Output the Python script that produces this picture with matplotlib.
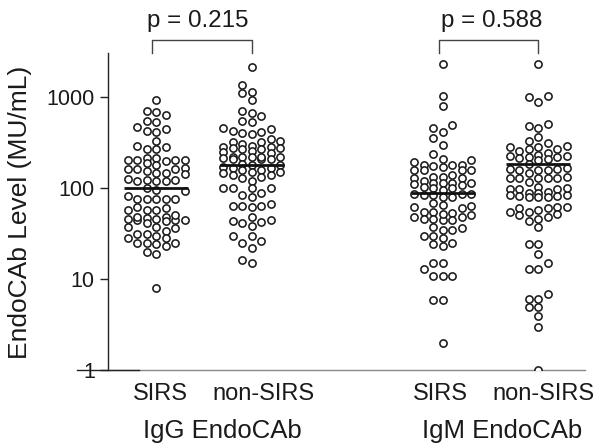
import numpy as np
import matplotlib
matplotlib.use("Agg")
import matplotlib.pyplot as plt
from matplotlib.lines import Line2D

plt.rcParams['font.family'] = ['Liberation Sans', 'DejaVu Sans']

# ---------------- data (MU/mL) ----------------
igg_sirs = [927, 700, 630, 690, 545, 530, 470, 412, 423, 445, 328, 282, 268, 268, 290,
            205, 205, 214, 205, 200, 205, 212,
            188, 180, 168,
            160, 160, 146, 143, 146, 155, 160,
            118, 118, 122, 122, 125, 120,
            92, 95, 100,
            76, 76, 76, 76, 82, 76,
            62, 57, 58, 58, 61,
            46, 44, 47, 48, 44, 48, 43, 50, 44, 46,
            37, 37, 34, 36, 41,
            31, 30, 28, 25, 25, 23, 28, 25, 31, 24,
            20, 19,
            8]
igg_nonsirs = [2135, 1350, 1135, 1106, 927,
               620, 702, 667, 531, 545,
               457, 423, 402, 392, 412, 445,
               345, 321, 303, 282, 290, 321, 328,
               250, 266, 273, 273, 266, 280, 241, 257,
               207, 217, 217, 217, 212, 221, 217, 207, 207,
               180, 178, 182,
               158, 165, 151, 169, 165, 145, 151, 158,
               128, 139, 131, 139, 120,
               99, 89, 84, 79, 99, 99, 99,
               67, 63, 62, 63, 63,
               44, 41, 38, 42, 43, 48,
               30, 30, 26, 25, 22,
               15, 16]
igm_sirs = [2305, 1026, 796, 492, 416, 453, 352, 297, 237,
            207, 194, 203,
            178, 175, 170, 178, 178,
            158, 158, 158, 158,
            139, 131, 128, 128, 133, 120,
            114, 108, 114, 111, 114, 114,
            103, 99, 99, 95,
            87, 84, 84, 79, 79, 87, 87,
            65, 62, 60, 63, 68,
            50, 48, 54, 46, 53, 44, 52, 44, 54, 46, 48,
            37, 35, 35, 36,
            30, 30, 25, 23, 24, 28,
            15, 15,
            10.8, 10.8, 10.8, 12.8,
            5.9, 5.9,
            1.98]
igm_nonsirs = [2305, 1026, 880, 995, 505, 480, 453, 361, 315, 331, 290,
               257, 280, 266, 266, 280, 244, 231,
               221, 225, 207, 203, 212, 221, 225,
               165, 160, 158, 158, 145, 160, 158, 182,
               131, 128, 128, 117, 128, 128, 128,
               103, 97, 97, 91, 84, 97, 99, 89, 89,
               84, 82, 82, 80, 80, 80,
               58, 54, 61, 50, 46, 62, 48, 62, 52, 55, 60,
               37, 43,
               24, 24,
               18.8,
               15, 12.8, 12.8,
               6, 6, 6.8, 4.9, 4.9,
               3.9,
               2.97,
               1.0]

series = [igg_sirs, igg_nonsirs, igm_sirs, igm_nonsirs]
group_pos = [1, 2, 4, 5]
medians = [100, 179, 88, 182]
cat_labels = ['SIRS', 'non-SIRS', 'SIRS', 'non-SIRS']
antigen_labels = ['IgG EndoCAb', 'IgM EndoCAb']
p_labels = ['p = 0.215', 'p = 0.588']
y_ticks = [1, 10, 100, 1000]
y_ticklabels = ['1', '10', '100', '1000']

W, H = 599, 446
fig = plt.figure(figsize=(W / 100, H / 100), dpi=100)
ax_left, ax_right = 108, 585
ax = fig.add_axes([ax_left / W, 76 / H, (ax_right - ax_left) / W, 317 / H])
ax.set_yscale('log')
ax.set_ylim(1, 3047)
px_per_unit = 95.5
ax.set_xlim(0.497, 0.497 + (ax_right - ax_left) / px_per_unit)

# ---------------- swarm layout ----------------
step = 9.5
thr = 7.6
cands = [0, -1, 1, -2, 2, -3, 3]


def swarm(xc, vals):
    vals = np.asarray(vals, float)
    ypx = ax.transData.transform(np.column_stack([np.full(len(vals), xc), vals]))[:, 1]
    order = np.argsort(ypx)
    placed = []
    offs = np.zeros(len(vals))
    for i in order:
        y = ypx[i]
        chosen = None
        bestk, bestd = 0, -1
        for k in cands:
            x = k * step
            d = min([np.hypot(x - px, y - py) for px, py in placed], default=1e9)
            if d >= thr:
                chosen = k
                break
            if d > bestd:
                bestd, bestk = d, k
        if chosen is None:
            chosen = bestk
        placed.append((chosen * step, y))
        offs[i] = chosen * step / px_per_unit
    return xc + offs, vals


for xc, vals, med in zip(group_pos, series, medians):
    xs, ys = swarm(xc, vals)
    ax.scatter(xs, ys, s=27, facecolors='white', edgecolors='#1a1a1a',
               linewidths=1.15, zorder=3)
    hw = 32 / px_per_unit
    ax.plot([xc - hw, xc + hw], [med, med], color='#111111', lw=2.0,
            zorder=4, solid_capstyle='butt')

# ---------------- axes styling ----------------
for s in ['top', 'right']:
    ax.spines[s].set_visible(False)
ax.spines['left'].set_color('#222222')
ax.spines['left'].set_linewidth(1.0)
ax.spines['bottom'].set_color('#888888')
ax.spines['bottom'].set_linewidth(1.0)
ax.set_yticks(y_ticks)
ax.set_yticklabels(y_ticklabels)
ax.yaxis.set_minor_locator(matplotlib.ticker.NullLocator())
ax.tick_params(axis='y', length=6, width=1.0, color='#222222', pad=3.5,
               labelsize=15.5, labelcolor='#1a1a1a')
ax.set_xticks([])

# extension of baseline to the left, through the "1" label
fig.add_artist(Line2D([77 / W, 139 / W], [76 / H, 76 / H], color='#222222', lw=1.0))

# ---------------- labels ----------------
fig.text(20 / W, 1 - 212 / H, 'EndoCAb Level (MU/mL)', rotation=90,
         ha='center', va='center', fontsize=19, color='#1a1a1a')

cat_x_px = [160, 264, 440, 544]
for xp, lab in zip(cat_x_px, cat_labels):
    fig.text(xp / W, 1 - 400 / H, lab, ha='center', va='baseline',
             fontsize=17, color='#1a1a1a')
for xp, lab in zip([222, 502], antigen_labels):
    fig.text(xp / W, 1 - 438 / H, lab, ha='center', va='baseline',
             fontsize=18.5, color='#1a1a1a')

# ---------------- significance brackets ----------------
br_top, br_bot = 4230, 3047
for (x0, x1), lab, tx in zip([(0.96, 2.0), (3.96, 5.0)], p_labels, [197.5, 491.5]):
    ax.plot([x0, x0, x1, x1], [br_bot, br_top, br_top, br_bot],
            color='#444444', lw=1.0, clip_on=False)
    fig.text(tx / W, 1 - 27 / H, lab, ha='center', va='baseline',
             fontsize=17.4, color='#1a1a1a')

fig.savefig('out.png', dpi=100)
